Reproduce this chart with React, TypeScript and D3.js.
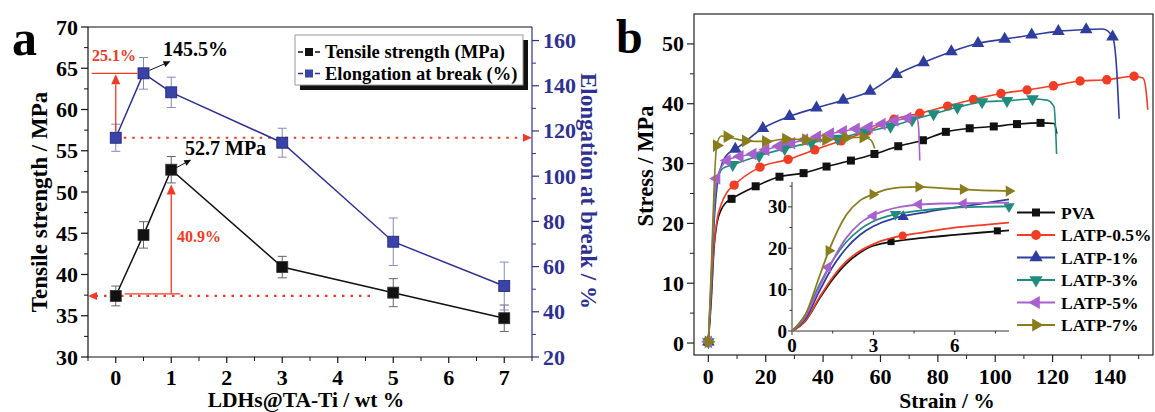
import React from "react";
import * as d3 from "d3";

// ---- panel a data ----
const loadings = [0, 0.5, 1, 3, 5, 7];
const tensile = [37.4, 44.8, 52.7, 40.9, 37.8, 34.7];
const tensileErr = [1.2, 1.6, 1.6, 1.3, 1.7, 1.6];
const elongation = [117, 145.5, 137.1, 114.8, 71.0, 51.4];
const elongationErr = [6, 7, 6.7, 6.4, 10.5, 10.6];
const tsTicks = [30, 35, 40, 45, 50, 55, 60, 65, 70];
const elTicks = [20, 40, 60, 80, 100, 120, 140, 160];
const loadTicks = [0, 1, 2, 3, 4, 5, 6, 7];

// ---- panel b data (strain %, stress MPa) ----
const seriesNames = ["PVA", "LATP-0.5%", "LATP-1%", "LATP-3%", "LATP-5%", "LATP-7%"];
const stressTicks = [0, 10, 20, 30, 40, 50];
const strainTicks = [0, 20, 40, 60, 80, 100, 120, 140];
const insetXTicks = [0, 3, 6];
const insetYTicks = [0, 10, 20, 30];

const pvaLine = [[1, 7], [2, 16], [3, 20], [4.5, 22.3], [6, 23.4], [120.5, 36.7], [121.5, 35]];
const pvaMarks = [[0, 0.2], [8.1, 24.1], [16.5, 26.2], [24.8, 27.8], [33.2, 28.4], [41.2, 29.5], [49.7, 30.5], [57.9, 31.6], [66.2, 32.9], [74.8, 33.9], [82.8, 35.3], [91.1, 35.9], [99.5, 36.2], [107.6, 36.6], [115.8, 36.8]];
const redLine = [[1, 8], [2, 16.5], [3, 20.5], [4.5, 23.2], [6.5, 25.2], [151.5, 44.3], [152.5, 42.5], [153.2, 39]];
const redMarks = [[0, 0.2], [9, 26.4], [18, 29.4], [27.8, 30.7], [37.1, 32.3], [46.3, 33.8], [55.4, 35.4], [64.7, 37.4], [73.7, 38.4], [83.4, 39.6], [92.4, 40.7], [102, 41.7], [111.1, 42.3], [120.3, 43], [129.6, 43.8], [138.9, 44], [148.4, 44.6]];
const blueLine = [[1, 9], [2, 20], [3, 26], [5, 30.3], [7, 31.7], [137.5, 52.5], [142.3, 46], [143.2, 37.5]];
const blueMarks = [[0, 0.2], [9.4, 32.4], [19, 35.9], [28.3, 37.9], [37.7, 39.3], [47, 40.6], [56.4, 42.1], [65.6, 44.9], [75, 46.9], [84.7, 48.7], [94, 50.1], [103.3, 50.8], [112.7, 51.5], [122, 52.1], [131.7, 52.4], [140.9, 51.2]];
const tealLine = [[1, 10], [2, 22], [3, 27], [5, 29.2], [118, 40.6], [120.5, 39.5], [121.4, 31.6]];
const tealMarks = [[0, 0.2], [8.5, 29.8], [17.7, 31.3], [26.6, 32.5], [35.9, 33.5], [45, 34.2], [54.5, 35.3], [63.5, 36.2], [71, 37.3], [78.5, 38.3], [86.8, 39.4], [95.4, 40.3], [104.1, 40.5], [113, 40.8]];
const purpleLine = [[1, 11], [2, 23], [72.5, 38], [73.3, 36], [73.7, 30.5]];
const purpleMarks = [[0, 0.2], [2.9, 27.5], [6.5, 30.5], [11, 31.2], [15.5, 31.6], [20, 32.3], [24.5, 32.9], [29, 33.4], [33.5, 34], [38, 34.5], [42.5, 35], [47, 35.4], [51.5, 35.8], [56, 36.1], [60.5, 36.6], [65, 37.2], [69.5, 37.6]];
const oliveLine = [[1, 12], [2, 26], [4.5, 34.6], [9, 34.2], [56.5, 34], [57.5, 33.2], [58, 32.5]];
const oliveMarks = [[0, 0.2], [2.9, 33], [6.6, 34.5], [13, 33.8], [20, 33.7], [27, 34.1], [34, 34], [41, 34], [48, 34.3], [54, 34.4]];

// inset (0-8 % strain)
const pvaInLine = [[0, 0], [0.5, 2.5], [1, 7.7], [1.5, 12.5], [2, 16.3], [2.5, 18.9], [3, 20.6], [5, 22.6], [6, 23.2], [7, 23.8], [8, 24.3]];
const pvaInMarks = [[3.65, 21.6], [7.57, 24.2]];
const redInLine = [[0, 0], [0.5, 2.5], [1, 8], [1.5, 13], [2, 16.8], [2.5, 19.3], [3, 21], [5, 24], [6, 25], [7, 25.6], [8, 26.2]];
const redInMarks = [[4.08, 23]];
const blueInLine = [[0, 0], [0.5, 3], [1, 9.5], [1.5, 15.5], [2, 20], [2.5, 23.2], [3, 25.3], [5, 28.8], [6, 29.8], [7, 30.8], [8, 31.8]];
const blueInMarks = [[4.1, 27.6]];
const tealInLine = [[0, 0], [0.5, 4], [1, 11], [1.5, 17], [2, 21.5], [2.5, 24.5], [3, 26.5], [5, 29.3], [6, 29.8], [7, 30]];
const tealInMarks = [[3.81, 28.2], [8, 30.1]];
const purpleInLine = [[0, 0], [0.5, 3.5], [1, 10.5], [2, 22.5], [2.5, 26], [3.5, 29.2], [4, 30], [5.5, 30.8], [7, 30.9], [8, 31]];
const purpleInMarks = [[1.32, 15.4], [3, 27.8], [4.67, 30.6], [6.32, 30.8]];
const oliveInLine = [[0, 0], [0.5, 4], [1, 13], [2, 28], [2.5, 31.5], [3.5, 34.2], [4, 34.7], [5.5, 34.5], [7, 34], [7.5, 33.9]];
const oliveInMarks = [[1.36, 19.4], [2.98, 33], [4.67, 34.8], [6.31, 34.2], [8, 33.8]];

const colors = ["#111111", "#f23d24", "#2f3e9e", "#1f8c7e", "#a860cf", "#8a7d1d"];
const shapes = ["square", "circle", "up", "down", "left", "right"];
const FONT = "'Liberation Serif', 'Times New Roman', serif";
const RED = "#f03a24";
const ABLUE = "#2e3192";

const byX = (a: number[][]) => [...a].sort((p, q) => p[0] - q[0]);
const bSeries = [
  { line: byX([...pvaLine, ...pvaMarks]), marks: pvaMarks, inLine: pvaInLine, inMarks: pvaInMarks },
  { line: byX([...redLine, ...redMarks]), marks: redMarks, inLine: redInLine, inMarks: redInMarks },
  { line: byX([...blueLine, ...blueMarks]), marks: blueMarks, inLine: blueInLine, inMarks: blueInMarks },
  { line: byX([...tealLine, ...tealMarks]), marks: tealMarks, inLine: byX([...tealInLine, ...tealInMarks]), inMarks: tealInMarks },
  { line: byX([...purpleLine, ...purpleMarks]), marks: purpleMarks, inLine: purpleInLine, inMarks: purpleInMarks },
  { line: byX([...oliveLine, ...oliveMarks]), marks: oliveMarks, inLine: byX([...oliveInLine, ...oliveInMarks]), inMarks: oliveInMarks },
];

const Marker = ({ x, y, shape, color, size }: any) => {
  if (shape === "square") {
    const s = Math.sqrt(size);
    return <rect x={x - s / 2} y={y - s / 2} width={s} height={s} fill={color} />;
  }
  const type = shape === "circle" ? d3.symbolCircle : d3.symbolTriangle;
  const rot = { circle: 0, up: 0, down: 180, left: -90, right: 90 }[shape as string] || 0;
  const d = d3.symbol().type(type).size(size)() as string;
  return <path d={d} transform={`translate(${x},${y}) rotate(${rot})`} fill={color} />;
};

const Arrow = ({ x1, y1, x2, y2, color, head = 7, width = 1.3 }: any) => {
  const a = Math.atan2(y2 - y1, x2 - x1);
  const hx = x2 - head * Math.cos(a);
  const hy = y2 - head * Math.sin(a);
  const w = head * 0.45;
  const p = `M${x2},${y2}L${hx - w * Math.sin(a)},${hy + w * Math.cos(a)}L${hx + w * Math.sin(a)},${hy - w * Math.cos(a)}Z`;
  return (
    <g>
      <line x1={x1} y1={y1} x2={hx} y2={hy} stroke={color} strokeWidth={width} />
      <path d={p} fill={color} />
    </g>
  );
};

const PanelA = () => {
  const xA = d3.scaleLinear().domain([-0.5, 7.5]).range([88, 532]);
  const yA = d3.scaleLinear().domain([30, 70]).range([357, 27]);
  const yA2 = d3.scaleLinear().domain([20, 166]).range([357, 27]);
  const tsPath = d3.line<number>().x((_, i) => xA(loadings[i])).y((v) => yA(v))(tensile) as string;
  const elPath = d3.line<number>().x((_, i) => xA(loadings[i])).y((v) => yA2(v))(elongation) as string;
  const minorLeft = d3.range(32.5, 70, 5);
  const minorRight = d3.range(30, 170, 20);
  const minorBottom = d3.range(-0.5, 7.6, 1);
  return (
    <g fontFamily={FONT} fontWeight="bold">
      <text x={12} y={55} fontSize={50}>a</text>
      {/* frame */}
      <line x1={88} x2={532} y1={27} y2={27} stroke="#111" strokeWidth={1.2} />
      <line x1={88} x2={532} y1={357} y2={357} stroke="#111" strokeWidth={1.2} />
      <line x1={88} x2={88} y1={27} y2={357} stroke="#111" strokeWidth={1.2} />
      <line x1={532} x2={532} y1={27} y2={357} stroke={ABLUE} strokeWidth={1.2} />
      {tsTicks.map((t) => (
        <g key={t}>
          <line x1={81} x2={88} y1={yA(t)} y2={yA(t)} stroke="#111" strokeWidth={1.2} />
          <text x={78} y={yA(t) + 7.5} fontSize={22} textAnchor="end">{t}</text>
        </g>
      ))}
      {minorLeft.map((t) => (
        <line key={t} x1={84} x2={88} y1={yA(t)} y2={yA(t)} stroke="#111" strokeWidth={1} />
      ))}
      {elTicks.map((t) => (
        <g key={t}>
          <line x1={532} x2={539} y1={yA2(t)} y2={yA2(t)} stroke={ABLUE} strokeWidth={1.2} />
          <text x={543} y={yA2(t) + 7.5} fontSize={22} fill={ABLUE}>{t}</text>
        </g>
      ))}
      {minorRight.map((t) => (
        <line key={t} x1={532} x2={536} y1={yA2(t)} y2={yA2(t)} stroke={ABLUE} strokeWidth={1} />
      ))}
      {loadTicks.map((t) => (
        <g key={t}>
          <line x1={xA(t)} x2={xA(t)} y1={357} y2={363} stroke="#111" strokeWidth={1.2} />
          <text x={xA(t)} y={385} fontSize={22} textAnchor="middle">{t}</text>
        </g>
      ))}
      {minorBottom.map((t) => (
        <line key={t} x1={xA(t)} x2={xA(t)} y1={357} y2={361} stroke="#111" strokeWidth={1} />
      ))}
      <text x={306} y={407} fontSize={21.5} textAnchor="middle">LDHs@TA-Ti / wt %</text>
      <text transform="translate(47,202) rotate(-90)" fontSize={23} textAnchor="middle">Tensile strength / MPa</text>
      <text transform="translate(581,191) rotate(90)" fontSize={23} textAnchor="middle" fill={ABLUE}>Elongation at break / %</text>

      {/* red dotted reference lines */}
      <line x1={xA(0) + 8} x2={526} y1={yA2(elongation[0])} y2={yA2(elongation[0])} stroke={RED} strokeWidth={2.2} strokeDasharray="2.5 6" />
      <path d={`M532,${yA2(elongation[0])}l-9,-4l0,8Z`} fill={RED} />
      <line x1={370} x2={95} y1={yA(tensile[0])} y2={yA(tensile[0])} stroke={RED} strokeWidth={2.2} strokeDasharray="2.5 6" />
      <path d={`M88,${yA(tensile[0])}l9,-4l0,8Z`} fill={RED} />

      {/* error bars */}
      {loadings.map((l, i) => (
        <g key={"e" + i} strokeWidth={1}>
          <g stroke="#666">
            <line x1={xA(l)} x2={xA(l)} y1={yA(tensile[i] - tensileErr[i])} y2={yA(tensile[i] + tensileErr[i])} />
            <line x1={xA(l) - 4.5} x2={xA(l) + 4.5} y1={yA(tensile[i] - tensileErr[i])} y2={yA(tensile[i] - tensileErr[i])} />
            <line x1={xA(l) - 4.5} x2={xA(l) + 4.5} y1={yA(tensile[i] + tensileErr[i])} y2={yA(tensile[i] + tensileErr[i])} />
          </g>
          <g stroke="#8389c6">
            <line x1={xA(l)} x2={xA(l)} y1={yA2(elongation[i] - elongationErr[i])} y2={yA2(elongation[i] + elongationErr[i])} />
            <line x1={xA(l) - 4.5} x2={xA(l) + 4.5} y1={yA2(elongation[i] - elongationErr[i])} y2={yA2(elongation[i] - elongationErr[i])} />
            <line x1={xA(l) - 4.5} x2={xA(l) + 4.5} y1={yA2(elongation[i] + elongationErr[i])} y2={yA2(elongation[i] + elongationErr[i])} />
          </g>
        </g>
      ))}
      <path d={tsPath} fill="none" stroke="#111" strokeWidth={1.5} />
      <path d={elPath} fill="none" stroke={ABLUE} strokeWidth={1.5} />
      {loadings.map((l, i) => (
        <g key={"m" + i}>
          <rect x={xA(l) - 5.5} y={yA(tensile[i]) - 5.5} width={11} height={11} fill="#111" stroke="#333" strokeWidth={0.8} />
          <rect x={xA(l) - 5.5} y={yA2(elongation[i]) - 5.5} width={11} height={11} fill="#3a44a8" stroke="#1f2370" strokeWidth={0.8} />
        </g>
      ))}

      {/* annotations */}
      <line x1={xA(0) - 24} x2={xA(0.5) - 6} y1={yA2(elongation[1])} y2={yA2(elongation[1])} stroke={RED} strokeWidth={1.3} />
      <Arrow x1={xA(0)} y1={yA2(elongation[0]) - 6} x2={xA(0)} y2={yA2(elongation[1]) + 1} color={RED} head={10} />
      <text x={92} y={61} fontSize={16} fill={RED}>25.1%</text>
      <Arrow x1={xA(0.5) + 6} y1={yA2(elongation[1]) - 3} x2={xA(0.5) + 27} y2={yA2(elongation[1]) - 12} color="#111" head={7} width={1} />
      <text x={163} y={56} fontSize={20}>145.5%</text>
      <Arrow x1={xA(1) + 5} y1={yA(tensile[2]) - 2} x2={xA(1) + 20} y2={yA(tensile[2]) - 10} color="#111" head={7} width={1} />
      <text x={185} y={155} fontSize={20}>52.7 MPa</text>
      <line x1={xA(0) + 9} x2={xA(1) + 9} y1={yA(tensile[0]) - 2} y2={yA(tensile[0]) - 2} stroke={RED} strokeWidth={1.3} />
      <Arrow x1={xA(1)} y1={yA(tensile[0]) - 2} x2={xA(1)} y2={yA(50.9)} color={RED} head={10} />
      <text x={177} y={242} fontSize={16} fill={RED}>40.9%</text>

      {/* legend */}
      <rect x={300} y={40} width={228} height={50} fill="#111" />
      <rect x={295} y={35} width={228} height={50} fill="#fff" stroke="#999" strokeWidth={1} />
      {[0, 1].map((i) => {
        const y = 52 + i * 21.5;
        const c = i === 0 ? "#111" : ABLUE;
        return (
          <g key={i}>
            <line x1={298} x2={320} y1={y} y2={y} stroke={c} strokeWidth={1.5} strokeDasharray="5 12" />
            <rect x={305} y={y - 4} width={8} height={8} fill={i === 0 ? "#111" : "#3a44a8"} />
            <text x={325} y={y + 6} fontSize={18.5}>{i === 0 ? "Tensile strength (MPa)" : "Elongation at break (%)"}</text>
          </g>
        );
      })}
    </g>
  );
};

const PanelB = () => {
  const xB = d3.scaleLinear().domain([-5, 155]).range([694, 1153]);
  const yB = d3.scaleLinear().domain([-2, 55]).range([355, 14]);
  const xI = d3.scaleLinear().domain([0, 8]).range([792, 1009]);
  const yI = d3.scaleLinear().domain([0, 36]).range([331, 182]);
  const mainLine = d3.line<number[]>().x((d) => xB(d[0])).y((d) => yB(d[1])).curve(d3.curveMonotoneX);
  const inLine = d3.line<number[]>().x((d) => xI(d[0])).y((d) => yI(d[1])).curve(d3.curveMonotoneX);
  return (
    <g fontFamily={FONT} fontWeight="bold">
      <text x={616} y={53} fontSize={48}>b</text>
      <rect x={694} y={14} width={459} height={341} fill="none" stroke="#222" strokeWidth={1.2} />
      {stressTicks.map((t) => (
        <g key={t}>
          <line x1={687} x2={694} y1={yB(t)} y2={yB(t)} stroke="#222" strokeWidth={1.2} />
          <text x={684} y={yB(t) + 7.5} fontSize={22} textAnchor="end">{t}</text>
        </g>
      ))}
      {d3.range(5, 55, 10).map((t) => (
        <line key={t} x1={690} x2={694} y1={yB(t)} y2={yB(t)} stroke="#222" strokeWidth={1} />
      ))}
      {strainTicks.map((t) => (
        <g key={t}>
          <line x1={xB(t)} x2={xB(t)} y1={355} y2={362} stroke="#222" strokeWidth={1.2} />
          <text x={xB(t)} y={384} fontSize={22} textAnchor="middle">{t}</text>
        </g>
      ))}
      {d3.range(10, 155, 20).map((t) => (
        <line key={t} x1={xB(t)} x2={xB(t)} y1={355} y2={359} stroke="#222" strokeWidth={1} />
      ))}
      <text x={947} y={408} fontSize={21.5} textAnchor="middle">Strain / %</text>
      <text transform="translate(653,166) rotate(-90)" fontSize={22.5} textAnchor="middle">Stress / MPa</text>

      {bSeries.map((s, i) => (
        <g key={"s" + i}>
          <path d={mainLine(s.line as any) as string} fill="none" stroke={colors[i]} strokeWidth={1.6} />
          {s.marks.map((m, j) => (
            <Marker key={j} x={xB(m[0])} y={yB(m[1])} shape={shapes[i]} color={colors[i]} size={shapes[i] === "square" ? 64 : 70} />
          ))}
        </g>
      ))}

      {/* inset */}
      <line x1={792} x2={792} y1={182} y2={331} stroke="#333" strokeWidth={1} />
      <line x1={792} x2={1009} y1={331} y2={331} stroke="#333" strokeWidth={1} />
      {insetYTicks.map((t) => (
        <g key={t}>
          <line x1={788} x2={792} y1={yI(t)} y2={yI(t)} stroke="#333" strokeWidth={1} />
          <text x={787} y={yI(t) + 6.5} fontSize={19} textAnchor="end">{t}</text>
        </g>
      ))}
      {d3.range(5, 36, 10).map((t) => (
        <line key={t} x1={789.5} x2={792} y1={yI(t)} y2={yI(t)} stroke="#333" strokeWidth={1} />
      ))}
      {insetXTicks.map((t) => (
        <g key={t}>
          <line x1={xI(t)} x2={xI(t)} y1={331} y2={335} stroke="#333" strokeWidth={1} />
          <text x={xI(t)} y={352} fontSize={19} textAnchor="middle">{t}</text>
        </g>
      ))}
      {[1.5, 4.5, 7.5].map((t) => (
        <line key={t} x1={xI(t)} x2={xI(t)} y1={331} y2={333.5} stroke="#333" strokeWidth={1} />
      ))}
      {bSeries.map((s, i) => (
        <g key={"i" + i}>
          <path d={inLine(s.inLine as any) as string} fill="none" stroke={colors[i]} strokeWidth={1.8} />
          {s.inMarks.map((m, j) => (
            <Marker key={j} x={xI(m[0])} y={yI(m[1])} shape={shapes[i]} color={colors[i]} size={shapes[i] === "square" ? 49 : 55} />
          ))}
        </g>
      ))}

      {/* legend */}
      {seriesNames.map((n, i) => {
        const y = 212.5 + i * 22.5;
        return (
          <g key={n}>
            <line x1={1017} x2={1055} y1={y} y2={y} stroke={colors[i]} strokeWidth={1.8} />
            <Marker x={1036} y={y} shape={shapes[i]} color={colors[i]} size={shapes[i] === "square" ? 64 : 75} />
            <text x={1061} y={y + 6} fontSize={17.5}>{n}</text>
          </g>
        );
      })}
    </g>
  );
}

export default function App() {
  return (
    <svg width={1155} height={412} style={{ position: "absolute", left: 0, top: 0, display: "block", background: "#fff" }}>
      <PanelA />
      <PanelB />
    </svg>
  );
}
